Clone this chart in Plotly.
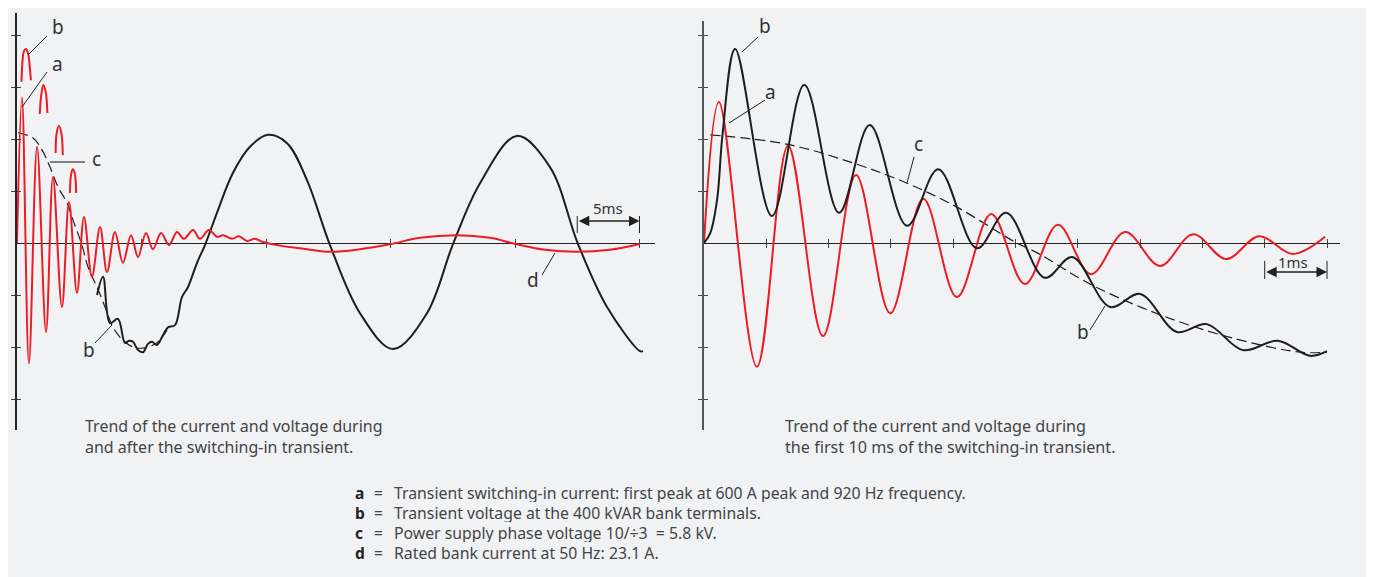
import plotly.graph_objects as go

# ---------------- DATA (time in ms, amplitude in axis-tick units) ----------------
# Left panel: during and after the switching-in transient
left_a_t = [0, 0.40, 0.96, 1.61, 2.33, 2.89, 3.61, 4.18, 4.82, 5.38, 6.02, 6.67, 7.23, 7.87,
            8.51, 9.16, 9.72, 10.36, 10.92, 11.57, 12.21, 12.85, 13.41, 14.14, 14.70, 15.42,
            16.06, 16.55, 17.27, 17.83, 18.47, 19.12, 19.76, 21.37, 22.73, 25.14, 27.55,
            30.04, 32.37, 35.34, 37.99, 40.08, 42.41, 44.98, 47.63, 50.04]
left_a_v = [0, 2.80, -2.31, 1.85, -1.71, 1.27, -1.23, 0.79, -0.96, 0.50, -0.65, 0.31, -0.56, 0.21,
            -0.38, 0.15, -0.27, 0.19, -0.12, 0.19, -0.04, 0.21, 0.08, 0.25, 0.08, 0.25,
            0.12, 0.15, 0.08, 0.13, 0.04, 0.08, 0.02, -0.06, -0.10, -0.17, -0.12,
            -0.02, 0.10, 0.15, 0.10, -0.02, -0.13, -0.17, -0.13, -0.02]

# voltage peaks (b) drawn as separate arcs at the top left
left_b_arcs_t = [[0.36, 0.45, 0.56, 0.72, 0.91, 1.01, 1.12],
                 [1.83, 1.93, 2.11, 2.31, 2.44],
                 [3.10, 3.19, 3.37, 3.56, 3.68],
                 [4.25, 4.34, 4.47, 4.63, 4.75]]
left_b_arcs_v = [[3.10, 3.52, 3.69, 3.73, 3.62, 3.42, 3.13],
                 [2.48, 2.81, 3.04, 2.90, 2.50],
                 [1.73, 2.12, 2.25, 2.12, 1.69],
                 [0.96, 1.31, 1.42, 1.35, 0.96]]

left_b_t = [6.43, 6.91, 7.47, 8.11, 8.67, 9.00, 9.32, 9.72, 10.12, 10.52, 10.84, 11.24, 11.73,
            12.13, 12.69, 13.25, 13.73, 14.46, 15.10, 16.06, 17.35, 18.71, 20.16, 21.69, 23.29,
            25.14, 27.55, 30.20, 32.93, 35.02, 37.19, 40.16, 42.81, 45.06, 47.39, 50.04, 50.28]
left_b_v = [-1.00, -0.65, -1.54, -1.46, -1.92, -1.88, -1.90, -2.06, -2.10, -1.94, -1.90, -1.96, -1.77,
            -1.62, -1.58, -1.04, -0.85, -0.38, -0.04, 0.58, 1.35, 1.85, 2.08, 1.92, 1.21,
            -0.04, -1.35, -2.04, -1.35, -0.02, 1.15, 2.06, 1.46, -0.02, -1.23, -2.08, -2.08]

left_c_t = [0.08, 1.29, 2.01, 2.65, 3.29, 4.02, 4.50, 5.22, 5.70, 6.43, 7.07, 7.71, 8.51, 9.32,
            10.12, 11.24, 12.05]
left_c_v = [2.12, 2.02, 1.79, 1.46, 1.08, 0.77, 0.44, -0.04, -0.46, -0.85, -1.23, -1.62, -1.87,
            -2.00, -2.02, -1.92, -1.67]

# Right panel: first 10 ms of the transient
right_a_t = [0, 0.24, 0.85, 1.35, 1.91, 2.44, 2.99, 3.52, 4.06, 4.61, 5.15, 5.68, 6.21, 6.76,
             7.32, 7.85, 8.38, 8.91, 9.45, 9.97]
right_a_v = [0, 2.71, -2.38, 1.87, -1.79, 1.31, -1.35, 0.85, -1.04, 0.56, -0.79, 0.35, -0.60, 0.21,
             -0.44, 0.17, -0.31, 0.13, -0.21, 0.12]

right_b_t = [0, 0.10, 0.21, 0.30, 0.50, 1.09, 1.61, 2.17, 2.66, 3.26, 3.76, 4.38, 4.85, 5.47,
             5.91, 6.52, 7.00, 7.59, 8.07, 8.65, 9.21, 9.73, 10.0]
right_b_v = [0, 0.19, 0.83, 2.12, 3.73, 0.52, 3.04, 0.58, 2.27, 0.33, 1.42, -0.10, 0.58, -0.67,
             -0.27, -1.23, -0.98, -1.71, -1.56, -2.06, -1.88, -2.17, -2.08]

right_c_t = [0.10, 1.33, 2.39, 3.26, 4.06, 4.99, 5.35, 6.23, 7.32, 8.49, 9.57, 10.0]
right_c_v = [2.08, 1.90, 1.54, 1.15, 0.69, 0.02, -0.19, -0.81, -1.38, -1.83, -2.10, -2.10]

left_xticks = [10, 20, 30, 40, 50]
right_xticks = [1, 2, 3, 4, 5, 6, 7, 8, 9, 10]
yticks = [-3, -2, -1, 1, 2, 3, 4]
left_scale = [45, 50]     # 5 ms bar
right_scale = [9, 10]     # 1 ms bar

captions_left = ["Trend of the current and voltage during", "and after the switching-in transient."]
captions_right = ["Trend of the current and voltage during", "the first 10 ms of the switching-in transient."]
legend_keys = ["a", "b", "c", "d"]
legend_texts = ["Transient switching-in current: first peak at 600 A peak and 920 Hz frequency.",
                "Transient voltage at the 400 kVAR bank terminals.",
                "Power supply phase voltage 10/\u00f73  = 5.8 kV.",
                "Rated bank current at 50 Hz: 23.1 A."]

# ---------------- STYLE ----------------
OFF = 8                      # page body margin of the browser
W, H = 1375 - OFF, 577 - OFF
RED = "#ec1c24"
BLK = "#1e1e1e"
TXT = "#444444"
FONT = "Noto Sans"
BG = "#f1f2f4"


def px(x):
    return (x - OFF) / W


def py(y):
    return 1 - (y - OFF) / H


fig = go.Figure()

# left traces
fig.add_trace(go.Scatter(x=left_c_t, y=left_c_v, mode="lines", xaxis="x", yaxis="y",
                         line=dict(color=BLK, width=1.2, dash="10px,5px", shape="spline")))
fig.add_trace(go.Scatter(x=left_b_t, y=left_b_v, mode="lines", xaxis="x", yaxis="y",
                         line=dict(color=BLK, width=2, shape="spline", smoothing=1)))
fig.add_trace(go.Scatter(x=left_a_t, y=left_a_v, mode="lines", xaxis="x", yaxis="y",
                         line=dict(color=RED, width=2, shape="spline", smoothing=1)))
arc_t, arc_v = [], []
for t, v in zip(left_b_arcs_t, left_b_arcs_v):
    arc_t += t + [None]
    arc_v += v + [None]
fig.add_trace(go.Scatter(x=arc_t, y=arc_v, mode="lines", xaxis="x", yaxis="y", connectgaps=False,
                         line=dict(color=RED, width=2, shape="spline", smoothing=1)))

# right traces
fig.add_trace(go.Scatter(x=right_c_t, y=right_c_v, mode="lines", xaxis="x2", yaxis="y2",
                         line=dict(color=BLK, width=1.2, dash="10px,5px", shape="spline")))
fig.add_trace(go.Scatter(x=right_a_t, y=right_a_v, mode="lines", xaxis="x2", yaxis="y2",
                         line=dict(color=RED, width=2, shape="spline", smoothing=1)))
fig.add_trace(go.Scatter(x=right_b_t, y=right_b_v, mode="lines", xaxis="x2", yaxis="y2",
                         line=dict(color=BLK, width=2, shape="spline", smoothing=1)))

# invisible traces so overlay axes render
fig.add_trace(go.Scatter(x=[None], y=[None], xaxis="x3", yaxis="y3", showlegend=False))
fig.add_trace(go.Scatter(x=[None], y=[None], xaxis="x4", yaxis="y4", showlegend=False))

zero_pos = py(243)
lx_dom = [px(17), px(655)]
rx_dom = [px(704), px(1340)]
lx_rng = [0, (655 - 17) / 12.45]
rx_rng = [0, (1340 - 704) / 62.3]
ly_dom = [py(430), py(13)]
ry_dom = [py(430), py(21)]
ly_rng = [(243 - 430) / 52, (243 - 13) / 52]
ry_rng = [(243 - 430) / 52, (243 - 21) / 52]

common_x = dict(showgrid=False, zeroline=False, showline=False, showticklabels=False,
                ticklen=4, tickwidth=1.2, tickcolor="#444", fixedrange=True)
common_y = dict(showgrid=False, showticklabels=False, ticklen=4, tickwidth=1.2,
                tickcolor="#444", tickvals=yticks, fixedrange=True)

fig.update_layout(
    width=W, height=H, autosize=False,
    margin=dict(l=0, r=0, t=0, b=0),
    paper_bgcolor="white", plot_bgcolor="rgba(0,0,0,0)",
    showlegend=False,
    xaxis=dict(domain=lx_dom, range=lx_rng, anchor="free", position=zero_pos,
               tickvals=left_xticks, ticks="outside", **common_x),
    xaxis3=dict(domain=lx_dom, range=lx_rng, anchor="free", position=zero_pos, overlaying="x",
                tickvals=left_xticks, ticks="inside", **common_x),
    xaxis2=dict(domain=rx_dom, range=rx_rng, anchor="free", position=zero_pos,
                tickvals=right_xticks, ticks="outside", **common_x),
    xaxis4=dict(domain=rx_dom, range=rx_rng, anchor="free", position=zero_pos, overlaying="x2",
                tickvals=right_xticks, ticks="inside", **common_x),
    yaxis=dict(domain=ly_dom, range=ly_rng, anchor="x", showline=True, linecolor="#222",
               linewidth=1.5, ticks="outside", zeroline=True, zerolinecolor="#222",
               zerolinewidth=1.3, **common_y),
    yaxis3=dict(domain=ly_dom, range=ly_rng, anchor="x", overlaying="y", showline=False,
                ticks="inside", zeroline=False, **common_y),
    yaxis2=dict(domain=ry_dom, range=ry_rng, anchor="x2", showline=True, linecolor="#555",
                linewidth=1.8, ticks="outside", zeroline=True, zerolinecolor="#222",
                zerolinewidth=1.3, **common_y),
    yaxis4=dict(domain=ry_dom, range=ry_rng, anchor="x2", overlaying="y2", showline=False,
                ticks="inside", zeroline=False, **common_y),
)

shapes = []
# background panel
shapes.append(dict(type="rect", xref="paper", yref="paper", x0=px(4), x1=px(1366), y0=py(578), y1=py(5),
                   fillcolor=BG, line=dict(width=0), layer="below"))


def leader(x0, y0, x1, y1, color="#222", width=1):
    shapes.append(dict(type="line", xref="paper", yref="paper", x0=px(x0), y0=py(y0),
                       x1=px(x1), y1=py(y1), line=dict(color=color, width=width)))


leader(28, 55, 47, 36)
leader(22, 107, 47, 72)
leader(50, 162, 85, 162, color="#808080", width=2)
leader(95, 343, 112, 325)
leader(542, 275, 555, 253)
leader(742, 52, 758, 37)
leader(729, 123, 765, 100)
leader(907, 183, 914, 157)
leader(1090, 330, 1105, 306)

# scale bar end ticks
for xv in left_scale:
    shapes.append(dict(type="line", xref="x", yref="y", x0=xv, x1=xv,
                       y0=(243 - 216) / 52, y1=(243 - 233) / 52, line=dict(color="#222", width=1)))
for xv in right_scale:
    shapes.append(dict(type="line", xref="x2", yref="y2", x0=xv, x1=xv,
                       y0=(243 - 261) / 52, y1=(243 - 279) / 52, line=dict(color="#222", width=1)))
fig.update_layout(shapes=shapes)

ann = []


def label(text, x, y, size=19, color=TXT, xanchor="center", height=None):
    a = dict(text=text, x=px(x), y=py(y), xref="paper", yref="paper", showarrow=False,
             xanchor=xanchor, yanchor="middle", font=dict(family=FONT, size=size, color=color))
    if height:
        a["height"] = height
    ann.append(a)


label("b", 58, 27, color="#333")
label("a", 58, 64, color="#333")
label("c", 96, 159, color="#333")
label("b", 89, 350, color="#333")
label("d", 533, 280, color="#333")
label("b", 765, 26, color="#333")
label("a", 770, 92, color="#333")
label("c", 918, 144, color="#333")
label("b", 1083, 332, color="#333")
label("5ms", 608, 208, size=15, color="#333")
label("1ms", 1293, 262, size=15, color="#333")

# scale bar arrows
ann.append(dict(x=left_scale[1], y=(243 - 221) / 52, ax=left_scale[0], ay=(243 - 221) / 52,
                xref="x", yref="y", axref="x", ayref="y", text="", showarrow=True,
                arrowhead=2, arrowsize=1.4, arrowwidth=1.5, arrowside="end+start",
                arrowcolor="#222", standoff=0, startstandoff=0))
ann.append(dict(x=right_scale[1], y=(243 - 272) / 52, ax=right_scale[0], ay=(243 - 272) / 52,
                xref="x2", yref="y2", axref="x2", ayref="y2", text="", showarrow=True,
                arrowhead=2, arrowsize=1.4, arrowwidth=1.5, arrowside="end+start",
                arrowcolor="#222", standoff=0, startstandoff=0))

for i, line in enumerate(captions_left):
    label(line, 83, 426 + i * 21, size=16, xanchor="left", height=20)
for i, line in enumerate(captions_right):
    label(line, 783, 426 + i * 21, size=16.2, xanchor="left", height=20)

for i, (k, t) in enumerate(zip(legend_keys, legend_texts)):
    yy = 492 + i * 20.3
    label("<b>" + k + "</b>", 353, yy, size=15.5, color="#222", xanchor="left", height=19)
    label("=", 372, yy, size=15.5, xanchor="left", height=19)
    label(t, 392, yy, size=15.8, xanchor="left", height=19)

fig.update_layout(annotations=ann)

fig.write_html("out.html")
